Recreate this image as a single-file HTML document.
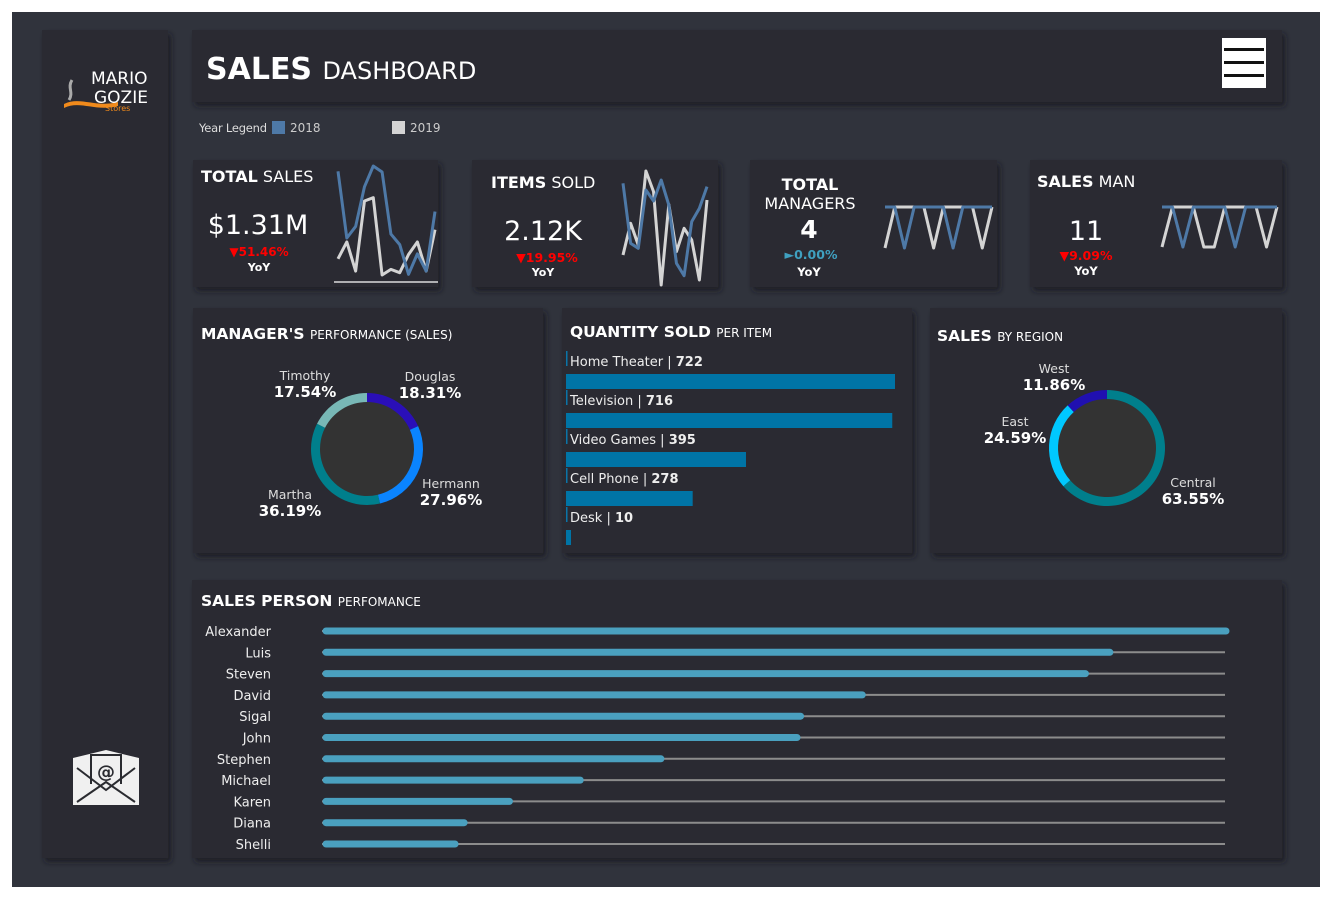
<!DOCTYPE html>
<html><head><meta charset="utf-8"><style>
html,body{margin:0;padding:0;background:#fff;}
svg{display:block;font-family:"DejaVu Sans","Liberation Sans",sans-serif;}
</style></head><body>
<svg id="dash" width="1331" height="897" viewBox="0 0 1331 897" xmlns="http://www.w3.org/2000/svg">
<defs><filter id="sh" x="-5%" y="-5%" width="112%" height="115%"><feDropShadow dx="3" dy="4" stdDeviation="3" flood-color="#1c1d22" flood-opacity="0.8"/></filter></defs>
<rect x="12" y="12" width="1308" height="875" fill="#30333c"/>
<g filter="url(#sh)" fill="#2a2b30">
<rect x="42" y="30" width="126" height="828"/>
<rect x="192" y="30" width="1090" height="72"/>
<rect x="193" y="160" width="245" height="127"/>
<rect x="472" y="160" width="246" height="127"/>
<rect x="750" y="160" width="247" height="127"/>
<rect x="1030" y="160" width="252" height="127"/>
<rect x="193" y="308" width="350" height="245"/>
<rect x="562" y="308" width="350" height="245"/>
<rect x="930" y="308" width="352" height="245"/>
<rect x="192" y="580" width="1090" height="278"/>
</g>
<g>
<path d="M72 80 C67 88 74 92 69 100" stroke="#aaa" stroke-width="3" fill="none"/>
<path d="M64 104 C80 96 95 108 118 102 L118 106 C95 112 80 100 64 108 Z" fill="#f08a1c"/>
<text x="91" y="84" fill="#fff" font-size="17">MARIO</text>
<text x="94" y="103" fill="#fff" font-size="17">GOZIE</text>
<text x="105" y="111" fill="#f08a1c" font-size="8">Stores</text>
</g>
<g>
<path d="M73 758 L106 750 L139 758 L139 805 L73 805 Z" fill="#f0f0f0"/>
<rect x="90" y="754" width="32" height="30" fill="#2a2b30"/>
<rect x="92" y="756" width="28" height="28" fill="#f0f0f0"/>
<text x="106" y="778" text-anchor="middle" font-size="18" font-weight="bold" fill="#2a2b30">@</text>
<path d="M77 768 L106 790 L135 768 M77 802 L106 782 L135 802" stroke="#2a2b30" stroke-width="2" fill="none"/>
</g>
<text x="206" y="79" fill="#fff" font-size="30" font-weight="bold">SALES <tspan font-size="24" font-weight="normal">DASHBOARD</tspan></text>
<g>
<rect x="1222" y="38" width="44" height="50" fill="#fff"/>
<rect x="1224" y="48" width="40" height="3" fill="#111"/><rect x="1224" y="61" width="40" height="3" fill="#111"/><rect x="1224" y="74" width="40" height="3" fill="#111"/>
</g>
<g font-size="12">
<text x="199" y="132" fill="#ddd" font-size="11.5" textLength="68">Year Legend</text>
<rect x="272" y="121" width="13" height="13" fill="#4e79a7"/>
<text x="290" y="132" fill="#ccc">2018</text>
<rect x="392" y="121" width="13" height="13" fill="#d4d4d4"/>
<text x="410" y="132" fill="#ccc">2019</text>
</g>
<g fill="#fff">
<text x="201" y="182" font-size="16"><tspan font-weight="bold">TOTAL</tspan> SALES</text>
<text x="258" y="234" font-size="27" text-anchor="middle">$1.31M</text>
<text x="259" y="256" font-size="12" font-weight="bold" fill="#f00" text-anchor="middle">▼51.46%</text>
<text x="259" y="271" font-size="11" font-weight="bold" text-anchor="middle">YoY</text>
<line x1="334" y1="282" x2="438" y2="282" stroke="#fff" stroke-width="1.2"/>
<text x="491" y="188" font-size="16"><tspan font-weight="bold">ITEMS</tspan> SOLD</text>
<text x="543" y="240" font-size="27" text-anchor="middle">2.12K</text>
<text x="547" y="262" font-size="12.5" font-weight="bold" fill="#f00" text-anchor="middle">▼19.95%</text>
<text x="543" y="276" font-size="11" font-weight="bold" text-anchor="middle">YoY</text>
<text x="810" y="190" font-size="16" font-weight="bold" text-anchor="middle">TOTAL</text>
<text x="810" y="209" font-size="16" text-anchor="middle">MANAGERS</text>
<text x="809" y="238" font-size="25" font-weight="bold" text-anchor="middle">4</text>
<text x="811" y="259" font-size="12.5" font-weight="bold" fill="#3fa0c0" text-anchor="middle">►0.00%</text>
<text x="809" y="276" font-size="11.5" font-weight="bold" text-anchor="middle">YoY</text>
<text x="1037" y="187" font-size="16"><tspan font-weight="bold">SALES</tspan> MAN</text>
<text x="1086" y="240" font-size="27" text-anchor="middle">11</text>
<text x="1086" y="260" font-size="12.5" font-weight="bold" fill="#f00" text-anchor="middle">▼9.09%</text>
<text x="1086" y="275" font-size="11.5" font-weight="bold" text-anchor="middle">YoY</text>
<text x="201" y="339" font-size="15.5" font-weight="bold">MANAGER'S <tspan font-size="12" font-weight="normal">PERFORMANCE (SALES)</tspan></text>
<text x="570" y="337" font-size="15.5" font-weight="bold">QUANTITY SOLD <tspan font-size="12" font-weight="normal">PER ITEM</tspan></text>
<text x="937" y="341" font-size="15.5" font-weight="bold">SALES <tspan font-size="12" font-weight="normal">BY REGION</tspan></text>
<text x="201" y="606" font-size="15.5" font-weight="bold">SALES PERSON <tspan font-size="12" font-weight="normal">PERFOMANCE</tspan></text>
</g>
<g id="charts"></g>
</svg>
<script>
const salesBlue = [352,150,185,305,368,350,162,130,40,102,50,230];
const salesWhite = [87,138,50,262,272,38,55,45,100,138,50,175];
const itemsBlue = [315,135,120,295,262,325,250,75,38,200,240,305];
const itemsWhite = [100,195,130,352,290,10,252,110,180,145,25,265];
const mgrBlue = [1,1,0,1,1,1,1,0,1,1,1,1];
const mgrWhite = [0,1,1,1,1,0,1,1,1,1,0,1];
const manBlue = [1,1,0,1,1,1,1,0,1,1,1,1];
const manWhite = [0,1,1,1,0,0,1,1,1,1,0,1];
const managerNames = ["Douglas","Hermann","Martha","Timothy"];
const managerShares = [18.31,27.96,36.19,17.54];
const regionNames = ["Central","East","West"];
const regionShares = [63.55,24.59,11.86];
const items = ["Home Theater","Television","Video Games","Cell Phone","Desk"];
const itemQty = [722,716,395,278,10];
const people = ["Alexander","Luis","Steven","David","Sigal","John","Stephen","Michael","Karen","Diana","Shelli"];
const personSales = [100,87.2,84.5,59.9,53.1,52.7,37.7,28.8,21.0,16.0,15.0];

const NS="http://www.w3.org/2000/svg";
const root=document.getElementById('charts');
function mk(tag,attrs,parent){const e=document.createElementNS(NS,tag);for(const k in attrs)e.setAttribute(k,attrs[k]);(parent||root).appendChild(e);return e;}

function spark(vals,x0,x1,y0,y1,dmin,dmax,color,name){
  const xs=i=>x0+(x1-x0)*i/(vals.length-1);
  const ys=v=>y1-(v-dmin)/(dmax-dmin)*(y1-y0);
  const p=mk('polyline',{points:vals.map((v,i)=>xs(i)+','+ys(v)).join(' '),fill:'none',stroke:color,'stroke-width':3,'stroke-linejoin':'round'});
  
  
}
spark(salesWhite,338,435,166,275,38,368,'#d4d4d4','total-sales-2019-line');
spark(salesBlue,338,435,166,275,38,368,'#4e79a7','total-sales-2018-line');
spark(itemsWhite,623,707,171,285,10,352,'#d4d4d4','items-sold-2019-line');
spark(itemsBlue,623,707,171,285,10,352,'#4e79a7','items-sold-2018-line');
spark(mgrWhite,885,992,207,248,0,1,'#d4d4d4','managers-2019-line');
spark(mgrBlue,885,992,207,248,0,1,'#4e79a7','managers-2018-line');
spark(manWhite,1162,1277,207,247,0,1,'#d4d4d4','sales-man-2019-line');
spark(manBlue,1162,1277,207,247,0,1,'#4e79a7','sales-man-2018-line');

function donut(vals,names,colors,cx,cy,r,w,prefix){
  mk('circle',{cx:cx,cy:cy,r:r-w/2,fill:'#333333'});
  const tot=vals.reduce((a,b)=>a+b,0);let a=0;
  vals.forEach((v,i)=>{
    const a0=a/tot*2*Math.PI,a1=(a+v)/tot*2*Math.PI;a+=v;
    const p=(ang,rr)=>[cx+rr*Math.sin(ang),cy-rr*Math.cos(ang)];
    const ro=r,ri=r-w,lg=(a1-a0)>Math.PI?1:0;
    const [x1,y1]=p(a0,ro),[x2,y2]=p(a1,ro),[x3,y3]=p(a1,ri),[x4,y4]=p(a0,ri);
    const s=mk('path',{d:`M${x1} ${y1} A${ro} ${ro} 0 ${lg} 1 ${x2} ${y2} L${x3} ${y3} A${ri} ${ri} 0 ${lg} 0 ${x4} ${y4} Z`,fill:colors[i]});
    
    
  });
}
donut(managerShares,managerNames,['#2a0fb8','#0a84ff','#007f8c','#78b8b6'],367,449,56,9,'manager');
donut(regionShares,regionNames,['#007f8c','#00c8ff','#2010b0'],1107,448,58,9,'region');

function label(name,val,x,y,pfx){
  const t=mk('text',{x:x,y:y,'text-anchor':'middle','font-size':12.5,fill:'#ddd'});t.textContent=name;
  
  
  const v=mk('text',{x:x,y:y+17,'text-anchor':'middle','font-size':15,'font-weight':'bold',fill:'#fff'});v.textContent=val.toFixed(2)+'%';
  
  
}
const mPos=[[430,381],[451,488],[290,499],[305,380]];
managerNames.forEach((n,i)=>label(n,managerShares[i],mPos[i][0],mPos[i][1],'manager-'+n.toLowerCase()));
const rPos=[[1193,487],[1015,426],[1054,373]];
regionNames.forEach((n,i)=>label(n,regionShares[i],rPos[i][0],rPos[i][1],'region-'+n.toLowerCase()));

const qx=v=>v/722*329;
items.forEach((n,i)=>{
  const y=374+i*39;
  mk('rect',{x:566,y:y-23,width:1.5,height:15,fill:'#0a74a8'});
  const t=mk('text',{x:570,y:y-8,'font-size':13,fill:'#eee'});
  t.innerHTML=n+' | <tspan font-weight="bold">'+itemQty[i]+'</tspan>';
  
  
  const b=mk('rect',{x:566,y:y,width:Math.max(5,qx(itemQty[i])),height:15,fill:'#0074a6'});
  
  
});

const px=v=>322+v/100*907;
people.forEach((n,i)=>{
  const y=631+i*21.3;
  const t=mk('text',{x:271,y:y+5,'text-anchor':'end','font-size':13,fill:'#eee'});t.textContent=n;
  
  
  mk('line',{x1:322,y1:y,x2:1225,y2:y,stroke:'#8c8c8c','stroke-width':2});
  const b=mk('line',{x1:326,y1:y,x2:px(personSales[i])-3,y2:y,stroke:'#4aa0bf','stroke-width':7,'stroke-linecap':'round'});
  
  
});
</script>
</body></html>
